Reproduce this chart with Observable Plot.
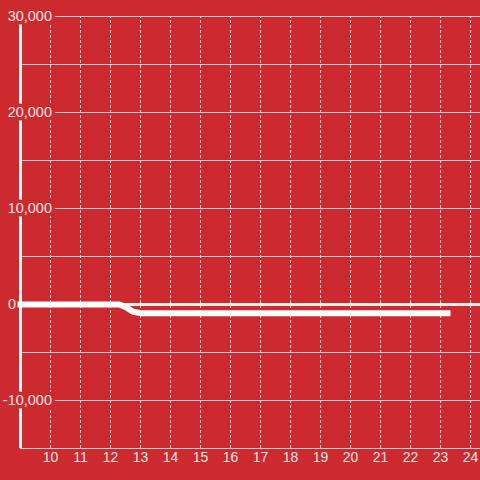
<!DOCTYPE html>
<html>
<head>
<meta charset="utf-8">
<script src="https://cdn.jsdelivr.net/npm/d3@7"></script>
<script src="https://cdn.jsdelivr.net/npm/@observablehq/plot@0.6"></script>
<style>
  html, body { margin: 0; padding: 0; background: #cc2a2f; }
</style>
</head>
<body>
<div id="chart"></div>
<script>
// Data
const seriesX = [9, 10, 11, 12, 12.3, 12.55, 12.75, 13.0, 14, 15, 16, 17, 18, 19, 20, 21, 22, 23, 23.23];
const seriesY = [0, 0, 0, 0, 0, -350, -750, -900, -900, -900, -900, -900, -900, -900, -900, -900, -900, -900, -900];
const xTicks = [10, 11, 12, 13, 14, 15, 16, 17, 18, 19, 20, 21, 22, 23, 24];
const yTicks = [-10000, 10000, 20000, 30000];
const yZeroTick = [0];
const yGrid = [-15000, -10000, -5000, 5000, 10000, 15000, 20000, 25000, 30000];

const bg = "#cc2a2f";
const textColor = "#f3e3e3";
const series = seriesX.map((x, i) => ({x, y: seriesY[i]}));
const fmt = d3.formatLocale({decimal: ".", thousands: ",", grouping: [3], currency: ["$", ""], minus: "-"}).format(",");

const chart = Plot.plot({
  width: 480,
  height: 480,
  marginLeft: 20,
  marginRight: 0,
  marginTop: 16,
  marginBottom: 32,
  style: {background: bg, fontFamily: "'Liberation Sans', Arial, sans-serif"},
  x: {domain: [9, 24.33], axis: null},
  y: {domain: [-15000, 30000], axis: null},
  marks: [
    Plot.ruleX(xTicks, {x: d => d, y1: -15000, y2: 30000, stroke: "#e2dede", strokeWidth: 1, strokeDasharray: "3,2"}),
    Plot.ruleY(yGrid, {y: d => d, stroke: "#cfcfcf", strokeWidth: 1}),
    Plot.ruleY([0], {y: d => d, stroke: "#eeeeee", strokeWidth: 3}),
    Plot.ruleX([9], {x: d => d, y1: -15000, y2: 30000, stroke: "#f4f0f0", strokeWidth: 3}),
    Plot.text(yTicks, {y: d => d, text: d => fmt(d), frameAnchor: "left", textAnchor: "end", dx: 31.5,
      fill: textColor, stroke: bg, strokeWidth: 7, strokeLinejoin: "round", fontSize: 14.5}),
    Plot.text(yZeroTick, {y: d => d, text: d => fmt(d), frameAnchor: "left", textAnchor: "start", dx: -12.5,
      fill: textColor, stroke: bg, strokeWidth: 4, strokeLinejoin: "round", fontSize: 14.5}),
    Plot.line(series, {x: "x", y: "y", stroke: "#ffffff", strokeWidth: 6, strokeLinecap: "square", strokeLinejoin: "round"}),
    Plot.text(xTicks, {x: d => d, text: d => String(d), frameAnchor: "bottom", dy: 13, fill: textColor, fontSize: 14})
  ]
});
document.getElementById("chart").appendChild(chart);
</script>
</body>
</html>
